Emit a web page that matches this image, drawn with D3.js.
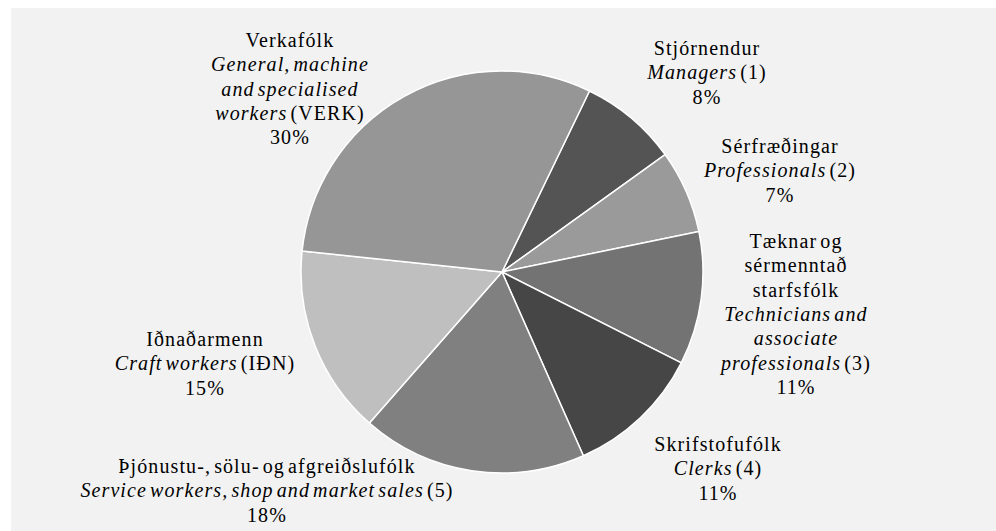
<!DOCTYPE html>
<html><head><meta charset="utf-8">
<script src="https://cdn.jsdelivr.net/npm/d3@7"></script>
<style>html,body{margin:0;padding:0;background:#fff;}svg{display:block;}</style>
</head><body>
<script>
// ---- data ----
const icelandic = ["Stjórnendur","Sérfræðingar","Tæknar og|sérmenntað|starfsfólk","Skrifstofufólk","Þjónustu-, sölu- og afgreiðslufólk","Iðnaðarmenn","Verkafólk"];
const english = ["Managers","Professionals","Technicians and|associate|professionals","Clerks","Service workers, shop and market sales","Craft workers","General, machine|and specialised|workers"];
const codes = ["(1)","(2)","(3)","(4)","(5)","(IÐN)","(VERK)"];
const values = [7.9, 6.7, 10.7, 10.9, 18.1, 15.2, 30.5];
const percentLabels = ["8%","7%","11%","11%","18%","15%","30%"];
const colors = ["#545454","#9a9a9a","#737373","#464646","#808080","#bfbfbf","#969696"];
// label anchor layout (centre x, first baseline y)
const labelLayout = [[707,55],[780,153],[796,248],[718,451],[267,473],[205,346],[290,47]];

const W=996,H=531;
const svg=d3.select("body").append("svg").attr("width",W).attr("height",H);
svg.append("rect").attr("x",11).attr("y",8).attr("width",W-11).attr("height",H-8).attr("fill","#f2f2f2");

const cx=502, cy=272, r=201;
const startA = 25.8*Math.PI/180;
const pie=d3.pie().sort(null).value(d=>d).startAngle(startA).endAngle(startA+2*Math.PI);
const arc=d3.arc().innerRadius(0).outerRadius(r);
const g=svg.append("g").attr("transform",`translate(${cx},${cy})`);
g.selectAll("path").data(pie(values)).join("path")
  .attr("d",arc).attr("fill",(d,i)=>colors[i])
  .attr("stroke","#fff").attr("stroke-width",1.5).attr("stroke-linejoin","round");

const lh=24.3;
const labels=svg.append("g")
  .style("font-family","'Liberation Serif', 'Times New Roman', serif")
  .style("font-size","20px").attr("fill","#000").attr("text-anchor","middle")
  .style("letter-spacing","1.1px").style("word-spacing","-3px");
values.forEach((v,i)=>{
  const [x,y]=labelLayout[i];
  const t=labels.append("text").attr("x",x).attr("y",y);
  const lines=[];
  icelandic[i].split("|").forEach(s=>lines.push([{t:s,it:false}]));
  const en=english[i].split("|");
  en.forEach((s,j)=>{
    if(j===en.length-1) lines.push([{t:s,it:true},{t:" "+codes[i],it:false}]);
    else lines.push([{t:s,it:true}]);
  });
  lines.push([{t:percentLabels[i],it:false}]);
  lines.forEach((parts,li)=>{
    parts.forEach((p,pi)=>{
      const ts=t.append("tspan").text(p.t).style("font-style",p.it?"italic":"normal");
      if(pi===0) ts.attr("x",x).attr("dy",li===0?0:lh);
    });
  });
});
</script>
</body></html>
